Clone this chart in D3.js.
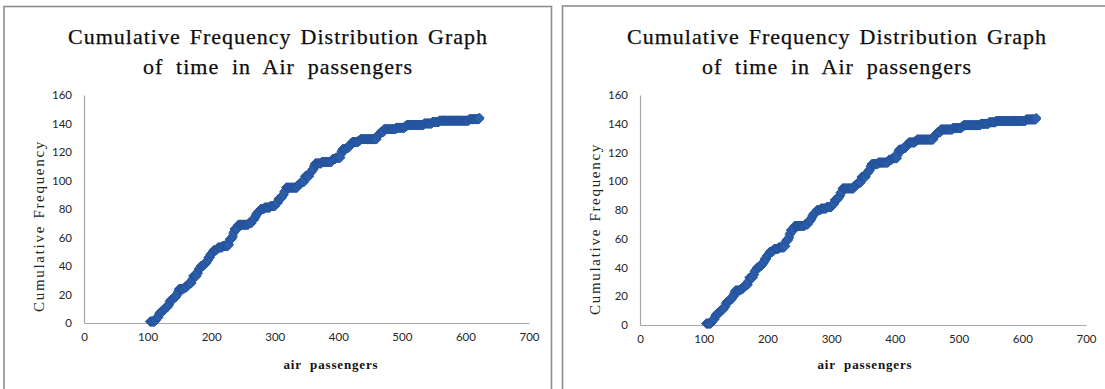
<!DOCTYPE html>
<html>
<head>
<meta charset="utf-8">
<script src="https://cdn.jsdelivr.net/npm/d3@7"></script>
<style>
  html, body { margin: 0; padding: 0; background: #fff; }
  svg { display: block; }
</style>
</head>
<body>
<svg id="chart" width="1105" height="389"></svg>
<script>
// Monthly air passenger counts (thousands), sorted ascending
const passengers = [
  104, 112, 114, 115, 118, 118, 119, 121, 125, 126, 129, 132, 133, 135, 135, 136,
  140, 141, 145, 146, 148, 148, 149, 150, 158, 162, 163, 166, 170, 170, 171, 172,
  172, 178, 178, 180, 180, 181, 183, 184, 188, 191, 193, 194, 196, 196, 199, 199,
  201, 203, 204, 209, 211, 218, 227, 229, 229, 229, 230, 233, 234, 235, 235, 236,
  237, 237, 242, 242, 243, 259, 264, 264, 267, 269, 270, 271, 272, 274, 277, 278,
  284, 293, 301, 302, 305, 306, 306, 310, 312, 313, 315, 315, 317, 318, 318, 336,
  337, 340, 342, 347, 347, 348, 348, 355, 355, 356, 359, 360, 362, 362, 363, 364,
  374, 390, 391, 396, 404, 404, 405, 405, 406, 407, 413, 417, 419, 420, 422, 432,
  435, 461, 461, 463, 465, 467, 472, 472, 491, 505, 508, 535, 548, 559, 606, 622
];

const xTicks = [0, 100, 200, 300, 400, 500, 600, 700];
const yTicks = [0, 20, 40, 60, 80, 100, 120, 140, 160];

const titleLines = ["Cumulative Frequency Distribution Graph", "of time in Air passengers"];
const xTitle = "air passengers";
const yTitle = "Cumulative Frequency";

// Cumulative frequency evaluated at every whole passenger count from the
// smallest to the largest observation: number of months with value <= x.
const lo = d3.min(passengers), hi = d3.max(passengers);
const points = d3.range(lo, hi + 1).map(v => ({ x: v, y: d3.bisectRight(passengers, v) }));

const svg = d3.select("#chart");

// The same figure is shown twice, side by side
const panels = [
  { frame: [4, 6.5, 547.5, 400], left: 84, right: 529, top: 95, bottom: 323,
    cx: 278, xLabelX: 331, yLabelX: 44, yLabelY: 226 },
  { frame: [562.5, 6, 545, 400], left: 640, right: 1086, top: 95, bottom: 325,
    cx: 837, xLabelX: 865, yLabelX: 600, yLabelY: 229 }
];

const serif = "'Liberation Serif', 'DejaVu Serif', serif";
const sans = "Lato, 'Open Sans', 'Liberation Sans', sans-serif";

// Spread a text to a given width: fixed letter spacing, then wider word gaps
function fitWords(sel, width, letter) {
  sel.attr("letter-spacing", letter);
  const node = sel.node();
  const natural = node.getComputedTextLength();
  const gaps = sel.text().split(" ").length - 1;
  if (gaps > 0 && natural < width) sel.attr("word-spacing", (width - natural) / gaps);
}

panels.forEach(p => {
  const g = svg.append("g");

  g.append("rect")
    .attr("x", p.frame[0]).attr("y", p.frame[1])
    .attr("width", p.frame[2]).attr("height", p.frame[3])
    .attr("fill", "none")
    .attr("stroke", "#8e8e8e")
    .attr("stroke-width", 1.6);

  const x = d3.scaleLinear().domain([0, 700]).range([p.left, p.right]);
  const y = d3.scaleLinear().domain([0, 160]).range([p.bottom, p.top]);

  // Title
  titleLines.forEach((line, i) => {
    const t = g.append("text")
      .attr("x", p.cx).attr("y", 44 + i * 30)
      .attr("text-anchor", "middle")
      .attr("font-family", serif)
      .attr("font-size", 22)
      .attr("fill", "#0d0d0d")
      .attr("stroke", "#0d0d0d")
      .attr("stroke-width", 0.25)
      .text(line);
    fitWords(t, i === 0 ? 420 : 270, 1.0);
  });

  // Axes
  const xAxis = d3.axisBottom(x).tickValues(xTicks).tickSize(0).tickPadding(10);
  const yAxis = d3.axisLeft(y).tickValues(yTicks).tickSize(0).tickPadding(12);

  const gx = g.append("g").attr("transform", `translate(0,${p.bottom})`).call(xAxis);
  const gy = g.append("g").attr("transform", `translate(${p.left},0)`).call(yAxis);

  [gx, gy].forEach(ax => {
    ax.select(".domain").attr("stroke", "#a6a6a6").attr("stroke-width", 1.2);
    ax.selectAll("text")
      .attr("font-family", sans)
      .attr("font-size", 11.5)
      .attr("fill", "#262626");
  });

  // Axis titles
  const xt = g.append("text")
    .attr("x", p.xLabelX)
    .attr("y", 369)
    .attr("text-anchor", "middle")
    .attr("font-family", serif)
    .attr("font-weight", "bold")
    .attr("font-size", 13)
    .attr("fill", "#111")
    .text(xTitle);
  fitWords(xt, 95, 0.85);

  const yt = g.append("text")
    .attr("transform", `translate(${p.yLabelX},${p.yLabelY}) rotate(-90)`)
    .attr("text-anchor", "middle")
    .attr("font-family", serif)
    .attr("font-size", 15)
    .attr("fill", "#222")
    .text(yTitle);
  fitWords(yt, 172, 1.7);

  // Diamond marker at every evaluated point
  const marker = d3.symbol().type(d3.symbolDiamond2).size(58);
  g.append("g")
    .selectAll("path")
    .data(points)
    .join("path")
    .attr("d", marker)
    .attr("transform", d => `translate(${x(d.x)},${y(d.y)})`)
    .attr("fill", "#2f61ae")
    .attr("stroke", "#25529a")
    .attr("stroke-width", 0.8);
});
</script>
</body>
</html>
